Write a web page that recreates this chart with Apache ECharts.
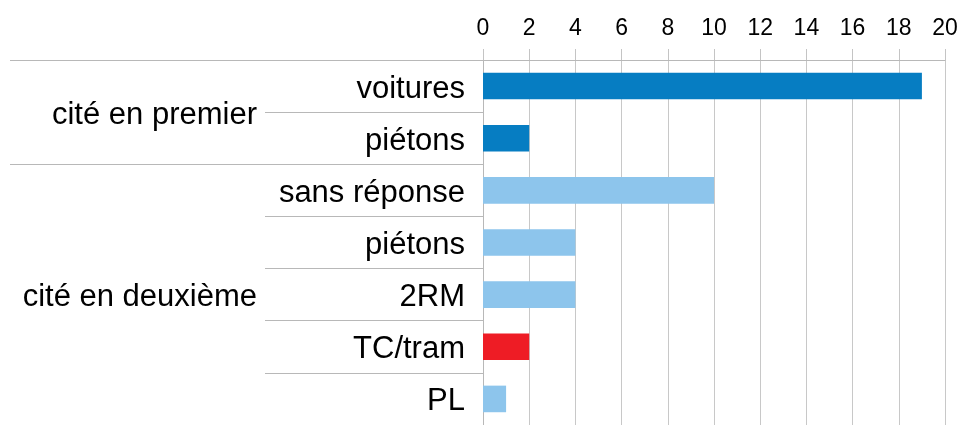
<!DOCTYPE html>
<html>
<head>
<meta charset="utf-8">
<script src="https://cdn.jsdelivr.net/npm/echarts@6/dist/echarts.min.js"></script>
<style>
  html, body { margin: 0; padding: 0; background: #fff; }
  #main { width: 963px; height: 425px; }
</style>
</head>
<body>
<div id="main"></div>
<script>
// rows, top to bottom
var categories = ['voitures', 'piétons', 'sans réponse', 'piétons', '2RM', 'TC/tram', 'PL'];
var values = [19, 2, 10, 4, 4, 2, 1];
var groups = ['cité en premier', 'cité en deuxième'];
var groupSizes = [2, 5];
var xTicks = [0, 20, 2]; // min, max, step
var barColors = ['#067dc2', '#067dc2', '#8dc5ec', '#8dc5ec', '#8dc5ec', '#ee1c25', '#8dc5ec'];

var font = "'Liberation Sans', Arial, sans-serif";
var lineGray = '#b8b8b8';
// text sits a little below the row centre in the original
var labelRich = { t: { fontSize: 31, color: '#000', fontFamily: font, padding: [6, 0, 0, 0] } };

// group boundaries and centres (in row units)
var bounds = [0], centres = [];
groupSizes.forEach(function (n, i) {
  var start = bounds[bounds.length - 1];
  bounds.push(start + n);
  centres.push(start + n / 2);
});

var chart = echarts.init(document.getElementById('main'), null, { renderer: 'canvas' });

chart.setOption({
  animation: false,
  grid: { left: 483, top: 60, width: 462, height: 371 },
  xAxis: {
    type: 'value',
    position: 'top',
    min: xTicks[0],
    max: xTicks[1],
    interval: xTicks[2],
    axisLine: { show: true, lineStyle: { color: lineGray, width: 1 } },
    axisTick: { show: true, length: 11, lineStyle: { color: '#c4c4c4' } },
    axisLabel: { fontSize: 23, color: '#000', fontFamily: font, margin: 20 },
    splitLine: { show: true, lineStyle: { color: '#c8c8c8', width: 1 } }
  },
  yAxis: [
    {
      type: 'category',
      position: 'left',
      inverse: true,
      data: categories,
      axisLine: { show: true, lineStyle: { color: lineGray } },
      axisTick: { show: true, length: 218, alignWithLabel: false, lineStyle: { color: lineGray } },
      axisLabel: {
        margin: 18, rich: labelRich,
        formatter: function (v) { return '{t|' + v + '}'; }
      },
      splitLine: { show: false }
    },
    {
      type: 'value',
      position: 'left',
      inverse: true,
      min: 0,
      max: categories.length,
      axisLine: { show: false },
      axisTick: { show: true, length: 473, customValues: bounds, lineStyle: { color: lineGray } },
      axisLabel: {
        margin: 226, rich: labelRich,
        customValues: centres,
        formatter: function (v) {
          var i = centres.indexOf(v);
          return i >= 0 ? '{t|' + groups[i] + '}' : '';
        }
      },
      splitLine: { show: false }
    }
  ],
  series: [{
    type: 'bar',
    yAxisIndex: 0,
    barWidth: '51%',
    data: values.map(function (v, i) {
      return { value: v, itemStyle: { color: barColors[i] } };
    })
  }]
});
</script>
</body>
</html>
